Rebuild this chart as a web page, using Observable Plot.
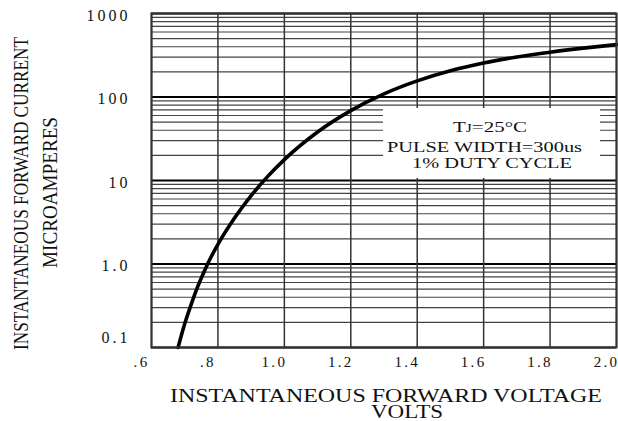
<!DOCTYPE html>
<html><head><meta charset="utf-8">
<script src="https://cdn.jsdelivr.net/npm/d3@7"></script>
<script src="https://cdn.jsdelivr.net/npm/@observablehq/plot@0.6"></script>
<style>html,body{margin:0;padding:0;background:#fff;} svg{display:block;}</style>
</head><body><div id="chart"></div>
<script>
// Curve: instantaneous forward voltage (V) vs forward current (µA)
const voltage = [0.68, 0.70, 0.72, 0.74, 0.76, 0.78, 0.80, 0.85, 0.90, 0.95, 1.0, 1.1, 1.2, 1.3, 1.4, 1.5, 1.6, 1.7, 1.8, 1.9, 2.0];
const current = [0.1, 0.192, 0.333, 0.546, 0.838, 1.23, 1.72, 3.55, 6.58, 11.2, 17.8, 38.1, 68.7, 109, 156, 206, 255, 301, 344, 385, 424];

const xTicks = [0.6, 0.8, 1.0, 1.2, 1.4, 1.6, 1.8, 2.0];
const xTickLabels = [".6", ".8", "1.0", "1.2", "1.4", "1.6", "1.8", "2.0"];
const yDecades = [0.1, 1, 10, 100, 1000];
const yTickLabels = ["0.1", "1.0", "10", "100", "1000"];
const yMinorSteps = [2, 3, 4, 5, 6, 7, 8, 9];
const legendLines = ["TJ=25°C", "PULSE WIDTH=300us", "1% DUTY CYCLE"];
const xTitle = ["INSTANTANEOUS FORWARD VOLTAGE", "VOLTS"];
const yTitle = ["INSTANTANEOUS FORWARD CURRENT", "MICROAMPERES"];

const curve = voltage.map((v, i) => ({v, i: current[i]}));
const yMinor = yDecades.slice(0, -1).flatMap(d => yMinorSteps.map(s => +(d * s).toPrecision(3)));
const xLab = xTicks.map((v, i) => ({v, t: xTickLabels[i]}));
const yLab = yDecades.map((v, i) => ({v, t: yTickLabels[i]}));

const svg = Plot.plot({
  width: 618, height: 421,
  marginLeft: 151, marginRight: 2, marginTop: 13, marginBottom: 74,
  style: {fontFamily: "Liberation Serif", fontSize: "15px", color: "#111", background: "#fff"},
  x: {domain: [0.6, 2.0], axis: null},
  y: {type: "log", domain: [0.1, 1000], axis: null},
  marks: [
    Plot.ruleY(yMinor, {stroke: "#444", strokeWidth: 1.2}),
    Plot.ruleY(yDecades, {stroke: "#000", strokeWidth: 1.8}),
    Plot.ruleX(xTicks, {stroke: "#333", strokeWidth: 1.5}),
    Plot.line(curve, {x: "v", y: "i", stroke: "#000", strokeWidth: 3.6, curve: "monotone-x"}),
    Plot.frame({stroke: "#333", strokeWidth: 2}),
    // x tick labels
    Plot.text(xLab, {x: "v", text: "t", frameAnchor: "bottom", lineAnchor: "top", dy: 9, dx: -10,
      fontSize: 15, fill: "#111", className: "xlab"}),
    // y tick labels
    Plot.text(yLab.filter(d => d.v !== 0.1), {y: "v", text: "t", frameAnchor: "left", textAnchor: "end",
      dx: -21, dy: 2, fontSize: 16, fill: "#111", className: "ylab"}),
    Plot.text(yLab.filter(d => d.v === 0.1), {y: "v", text: "t", frameAnchor: "left", textAnchor: "end",
      dx: -21, dy: -10, fontSize: 16, fill: "#111", className: "ylab"})
  ]
});
document.getElementById("chart").appendChild(svg);

const s = d3.select(svg);
s.selectAll(".xlab text").style("letter-spacing", "2.3px");
s.selectAll(".ylab text").style("letter-spacing", "3px");

// legend box
s.append("rect").attr("x", 383).attr("y", 108).attr("width", 217).attr("height", 70).attr("fill", "#fff");
const lg = s.append("g").attr("font-family", "Liberation Serif").attr("font-size", 15.5).attr("fill", "#111").attr("text-anchor", "middle");
const ly = [132, 151.5, 168];
const lx = [490, 484.5, 492];
const lw = [74, 195, 160];
legendLines.forEach((t, i) => {
  const el = lg.append("text").attr("x", lx[i]).attr("y", ly[i])
    .attr("textLength", lw[i]).attr("lengthAdjust", "spacingAndGlyphs");
  if (i === 0) {
    el.append("tspan").text("T");
    el.append("tspan").attr("font-size", 11.5).text("J");
    el.append("tspan").text(t.slice(2));
  } else {
    el.text(t);
  }
});

// axis titles
const tg = s.append("g").attr("font-family", "Liberation Serif").attr("fill", "#111").attr("text-anchor", "middle");
tg.append("text").attr("x", 386).attr("y", 401.5).attr("font-size", 18.5)
  .attr("textLength", 432).attr("lengthAdjust", "spacingAndGlyphs").text(xTitle[0]);
tg.append("text").attr("x", 407).attr("y", 418).attr("font-size", 18.5)
  .attr("textLength", 72).attr("lengthAdjust", "spacingAndGlyphs").text(xTitle[1]);
tg.append("text").attr("transform", "translate(28,193.5) rotate(-90)").attr("font-size", 22)
  .attr("textLength", 313).attr("lengthAdjust", "spacingAndGlyphs").text(yTitle[0]);
tg.append("text").attr("transform", "translate(57,192.5) rotate(-90)").attr("font-size", 22)
  .attr("textLength", 151).attr("lengthAdjust", "spacingAndGlyphs").text(yTitle[1]);
</script>
</body></html>
